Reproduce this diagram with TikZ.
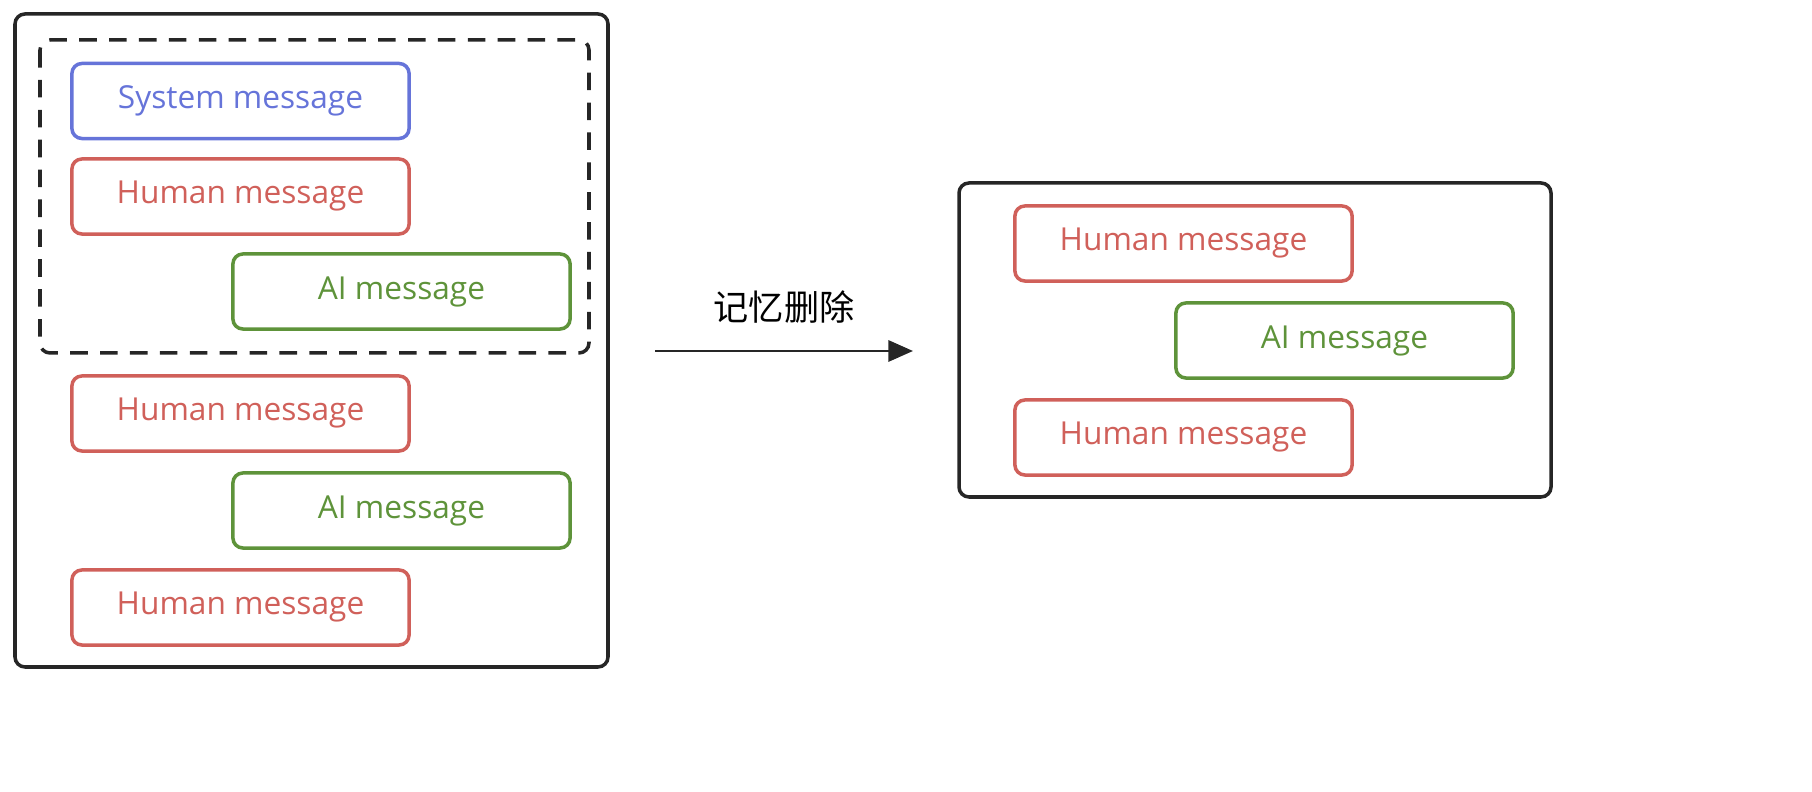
\documentclass[tikz,border=0pt]{standalone}
\usepackage{fontspec}
\setmainfont{Open Sans}
\newfontfamily\cjk{Noto Sans CJK SC}
\usetikzlibrary{arrows.meta,positioning}
\definecolor{sysColor}{HTML}{6674D9}
\definecolor{humColor}{HTML}{D0605A}
\definecolor{aiColor}{HTML}{5E933A}
\tikzset{
	msg/.style={draw, rounded corners=1mm, line width=1pt, minimum width=3.37cm, minimum height=0.75cm, font=\fontsize{9}{11}\selectfont, inner sep=0},
	sys/.style={msg, draw=sysColor, text=sysColor},
	hum/.style={msg, draw=humColor, text=humColor},
	ai/.style={msg, draw=aiColor, text=aiColor},
	frame/.style={draw, rounded corners=1mm, line width=1pt, black!85}
}
\begin{document}
\begin{tikzpicture}[x=0.01cm, y=-0.01cm]
 \useasboundingbox (0,0) rectangle (1812,792);
 \draw[frame] (15,14) rectangle (608,667);
 \draw[frame, dash pattern=on 5pt off 3.5pt] (40,40) rectangle (589,353);
 \node[sys] (sys) at (240.5,101) {System message};
 \node[hum] (h1) at (240.5,196.5) {Human message};
 \node[ai] (a1) at (401.5,291.5) {AI message};
 \node[hum] (h2) at (240.5,413.5) {Human message};
 \node[ai] (a2) at (401.5,510.5) {AI message};
 \node[hum] (h3) at (240.5,607.5) {Human message};

 \draw[frame] (959,183) rectangle (1551,497);
 \node[hum] (r1) at (1183.5,243.5) {Human message};
 \node[ai] (r2) at (1344.5,340.5) {AI message};
 \node[hum] (r3) at (1183.5,437.5) {Human message};

 \coordinate (from) at (655,351);
 \coordinate (to) at (913,351);
 \draw[-{Triangle[length=7pt,width=6pt]}, line width=0.8pt, black!85] (from) -- node[above=4pt, font=\cjk\fontsize{10}{12}\selectfont, black] {记忆删除} (to);
\end{tikzpicture}
\end{document}
